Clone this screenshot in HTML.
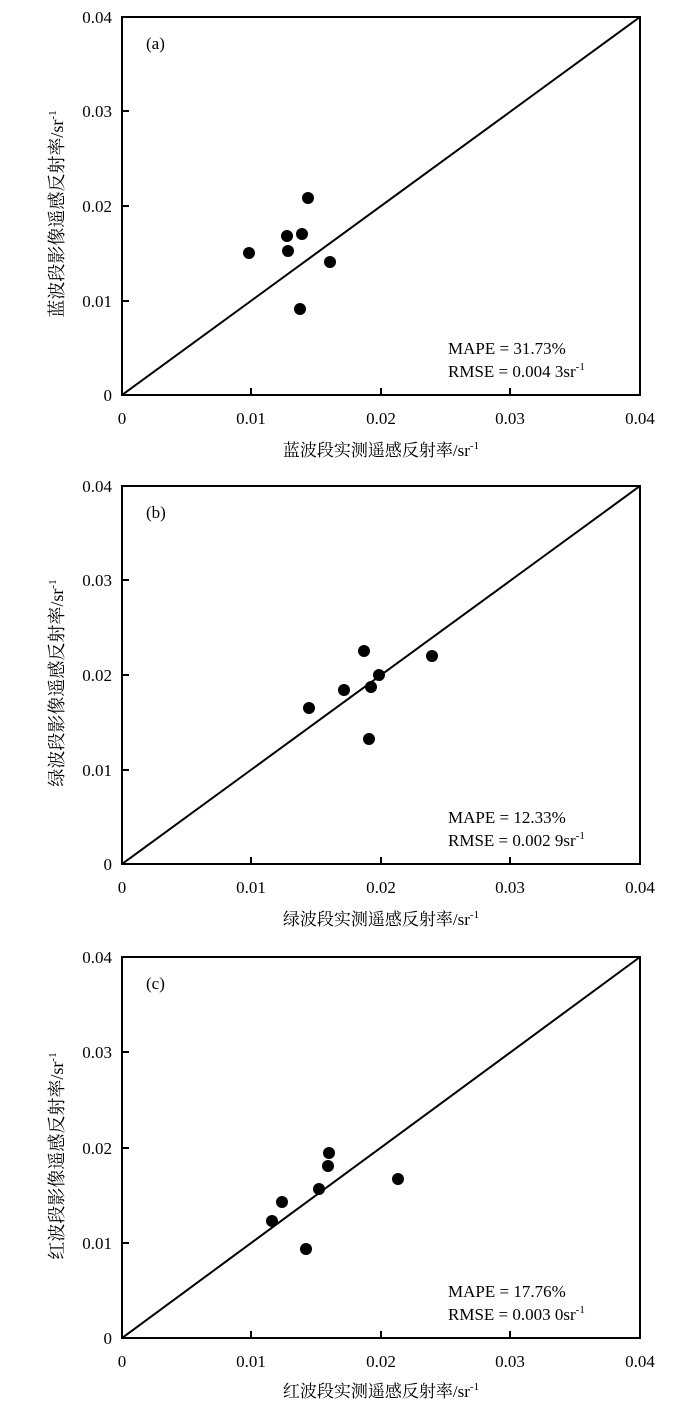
<!DOCTYPE html>
<html><head><meta charset="utf-8"><style>
body{margin:0;background:#fff}
svg text{font-family:"Liberation Serif","Noto Serif CJK SC",serif;fill:#000}
</style></head><body>
<svg width="700" height="1406" xmlns="http://www.w3.org/2000/svg">
<g id="a">
<rect x="122" y="17" width="518" height="378" fill="none" stroke="#000" stroke-width="2"/>
<line x1="122" y1="395" x2="640" y2="17" stroke="#000" stroke-width="2"/>
<g stroke="#000" stroke-width="2">
<line x1="251" y1="395" x2="251" y2="388"/><line x1="381" y1="395" x2="381" y2="388"/><line x1="510" y1="395" x2="510" y2="388"/>
<line x1="122" y1="301" x2="129" y2="301"/><line x1="122" y1="206" x2="129" y2="206"/><line x1="122" y1="111" x2="129" y2="111"/>
</g>
<g font-size="17" text-anchor="end"><text x="112" y="401">0</text><text x="112" y="307">0.01</text><text x="112" y="212">0.02</text><text x="112" y="117">0.03</text><text x="112" y="23">0.04</text></g>
<g font-size="17" text-anchor="middle"><text x="122" y="424">0</text><text x="251" y="424">0.01</text><text x="381" y="424">0.02</text><text x="510" y="424">0.03</text><text x="640" y="424">0.04</text></g>
<text x="146" y="49" font-size="17">(a)</text>
<text x="448" y="354" font-size="17">MAPE = 31.73%</text>
<text x="448" y="377" font-size="17">RMSE = 0.004 3sr<tspan dy="-7" font-size="11">-1</tspan></text>
<text x="381" y="456" font-size="17" text-anchor="middle">蓝波段实测遥感反射率/sr<tspan dy="-7" font-size="11">-1</tspan></text>
<text transform="translate(63,214) rotate(-90)" font-size="18" text-anchor="middle">蓝波段影像遥感反射率/sr<tspan dy="-7" font-size="11">-1</tspan></text>
<g fill="#000"><circle cx="249" cy="253" r="6"/><circle cx="287" cy="236" r="6"/><circle cx="288" cy="251" r="6"/><circle cx="302" cy="234" r="6"/><circle cx="308" cy="198" r="6"/><circle cx="330" cy="262" r="6"/><circle cx="300" cy="309" r="6"/></g>
</g>
<g id="b">
<rect x="122" y="486" width="518" height="378" fill="none" stroke="#000" stroke-width="2"/>
<line x1="122" y1="864" x2="640" y2="486" stroke="#000" stroke-width="2"/>
<g stroke="#000" stroke-width="2">
<line x1="251" y1="864" x2="251" y2="857"/><line x1="381" y1="864" x2="381" y2="857"/><line x1="510" y1="864" x2="510" y2="857"/>
<line x1="122" y1="770" x2="129" y2="770"/><line x1="122" y1="675" x2="129" y2="675"/><line x1="122" y1="580" x2="129" y2="580"/>
</g>
<g font-size="17" text-anchor="end"><text x="112" y="870">0</text><text x="112" y="776">0.01</text><text x="112" y="681">0.02</text><text x="112" y="586">0.03</text><text x="112" y="492">0.04</text></g>
<g font-size="17" text-anchor="middle"><text x="122" y="893">0</text><text x="251" y="893">0.01</text><text x="381" y="893">0.02</text><text x="510" y="893">0.03</text><text x="640" y="893">0.04</text></g>
<text x="146" y="518" font-size="17">(b)</text>
<text x="448" y="823" font-size="17">MAPE = 12.33%</text>
<text x="448" y="846" font-size="17">RMSE = 0.002 9sr<tspan dy="-7" font-size="11">-1</tspan></text>
<text x="381" y="925" font-size="17" text-anchor="middle">绿波段实测遥感反射率/sr<tspan dy="-7" font-size="11">-1</tspan></text>
<text transform="translate(63,683) rotate(-90)" font-size="18" text-anchor="middle">绿波段影像遥感反射率/sr<tspan dy="-7" font-size="11">-1</tspan></text>
<g fill="#000"><circle cx="309" cy="708" r="6"/><circle cx="344" cy="690" r="6"/><circle cx="364" cy="651" r="6"/><circle cx="371" cy="687" r="6"/><circle cx="379" cy="675" r="6"/><circle cx="369" cy="739" r="6"/><circle cx="432" cy="656" r="6"/></g>
</g>
<g id="c">
<rect x="122" y="957" width="518" height="381" fill="none" stroke="#000" stroke-width="2"/>
<line x1="122" y1="1338" x2="640" y2="957" stroke="#000" stroke-width="2"/>
<g stroke="#000" stroke-width="2">
<line x1="251" y1="1338" x2="251" y2="1331"/><line x1="381" y1="1338" x2="381" y2="1331"/><line x1="510" y1="1338" x2="510" y2="1331"/>
<line x1="122" y1="1243" x2="129" y2="1243"/><line x1="122" y1="1148" x2="129" y2="1148"/><line x1="122" y1="1052" x2="129" y2="1052"/>
</g>
<g font-size="17" text-anchor="end"><text x="112" y="1344">0</text><text x="112" y="1249">0.01</text><text x="112" y="1154">0.02</text><text x="112" y="1058">0.03</text><text x="112" y="963">0.04</text></g>
<g font-size="17" text-anchor="middle"><text x="122" y="1367">0</text><text x="251" y="1367">0.01</text><text x="381" y="1367">0.02</text><text x="510" y="1367">0.03</text><text x="640" y="1367">0.04</text></g>
<text x="146" y="989" font-size="17">(c)</text>
<text x="448" y="1297" font-size="17">MAPE = 17.76%</text>
<text x="448" y="1320" font-size="17">RMSE = 0.003 0sr<tspan dy="-7" font-size="11">-1</tspan></text>
<text x="381" y="1397" font-size="17" text-anchor="middle">红波段实测遥感反射率/sr<tspan dy="-7" font-size="11">-1</tspan></text>
<text transform="translate(63,1156) rotate(-90)" font-size="18" text-anchor="middle">红波段影像遥感反射率/sr<tspan dy="-7" font-size="11">-1</tspan></text>
<g fill="#000"><circle cx="272" cy="1221" r="6"/><circle cx="282" cy="1202" r="6"/><circle cx="319" cy="1189" r="6"/><circle cx="328" cy="1166" r="6"/><circle cx="329" cy="1153" r="6"/><circle cx="306" cy="1249" r="6"/><circle cx="398" cy="1179" r="6"/></g>
</g>
</svg>
</body></html>
